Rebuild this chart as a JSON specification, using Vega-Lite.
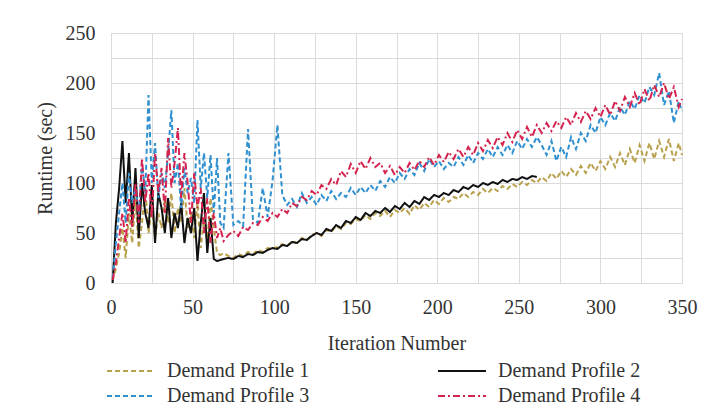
{
  "$schema": "https://vega.github.io/schema/vega-lite/v6.json",
  "width": 571,
  "height": 250,
  "padding": {"left": 35, "top": 23, "right": 10, "bottom": 2},
  "background": "white",
  "config": {
    "font": "Liberation Serif",
    "view": {"stroke": "#d0d0d0"},
    "axis": {
      "labelFont": "Liberation Serif",
      "titleFont": "Liberation Serif",
      "labelFontSize": 20,
      "titleFontSize": 20,
      "titleFontWeight": "normal",
      "labelColor": "#333333",
      "titleColor": "#333333",
      "gridColor": "#dadada",
      "domain": false,
      "ticks": false
    },
    "legend": {
      "labelFont": "Liberation Serif",
      "labelFontSize": 20,
      "labelColor": "#333333",
      "symbolType": "M-4,0H4",
      "symbolSize": 144,
      "symbolStrokeWidth": 2,
      "labelOffset": 26,
      "columnPadding": 124,
      "rowPadding": 5,
      "padding": 10,
      "offset": -2
    }
  },
  "datasets": {
    "runs": [
      {"i":1,"1":2,"2":0,"3":5,"4":3},
      {"i":3,"1":15,"2":60,"3":40,"4":20},
      {"i":5,"1":30,"2":95,"3":70,"4":45},
      {"i":7,"1":55,"2":142,"3":100,"4":70},
      {"i":9,"1":25,"2":80,"3":60,"4":40},
      {"i":11,"1":70,"2":130,"3":110,"4":85},
      {"i":13,"1":40,"2":60,"3":80,"4":55},
      {"i":15,"1":85,"2":115,"3":95,"4":100},
      {"i":17,"1":35,"2":45,"3":70,"4":60},
      {"i":19,"1":60,"2":100,"3":120,"4":125},
      {"i":21,"1":95,"2":70,"3":90,"4":80},
      {"i":23,"1":50,"2":55,"3":188,"4":110},
      {"i":25,"1":75,"2":98,"3":100,"4":65},
      {"i":27,"1":45,"2":40,"3":140,"4":130},
      {"i":29,"1":70,"2":90,"3":85,"4":90},
      {"i":31,"1":55,"2":75,"3":110,"4":115},
      {"i":33,"1":85,"2":50,"3":95,"4":70},
      {"i":35,"1":60,"2":85,"3":130,"4":145},
      {"i":37,"1":90,"2":45,"3":173,"4":95},
      {"i":39,"1":50,"2":70,"3":100,"4":120},
      {"i":41,"1":75,"2":55,"3":120,"4":155},
      {"i":43,"1":60,"2":80,"3":75,"4":85},
      {"i":45,"1":95,"2":40,"3":115,"4":130},
      {"i":47,"1":55,"2":65,"3":90,"4":100},
      {"i":49,"1":70,"2":50,"3":105,"4":60},
      {"i":51,"1":45,"2":75,"3":80,"4":110},
      {"i":53,"1":80,"2":22,"3":163,"4":75},
      {"i":55,"1":35,"2":60,"3":95,"4":95},
      {"i":57,"1":65,"2":90,"3":130,"4":50},
      {"i":59,"1":40,"2":30,"3":85,"4":85},
      {"i":61,"1":85,"2":65,"3":128,"4":40},
      {"i":63,"1":55,"2":24,"3":70,"4":70},
      {"i":65,"1":30,"2":22,"3":125,"4":45},
      {"i":67,"1":28,"2":23,"3":60,"4":55},
      {"i":69,"1":30,"2":24,"3":55,"4":42},
      {"i":72,"1":27,"2":25,"3":130,"4":48},
      {"i":75,"1":25,"2":24,"3":58,"4":52},
      {"i":78,"1":29,"2":27,"3":62,"4":47},
      {"i":81,"1":27,"2":26,"3":57,"4":56},
      {"i":84,"1":31,"2":29,"3":154,"4":53},
      {"i":87,"1":29,"2":28,"3":64,"4":60},
      {"i":90,"1":33,"2":31,"3":60,"4":58},
      {"i":93,"1":31,"2":30,"3":95,"4":66},
      {"i":96,"1":35,"2":33,"3":66,"4":62},
      {"i":99,"1":34,"2":35,"3":102,"4":70},
      {"i":102,"1":36,"2":34,"3":158,"4":66},
      {"i":105,"1":39,"2":38,"3":88,"4":74},
      {"i":108,"1":37,"2":37,"3":78,"4":70},
      {"i":111,"1":42,"2":41,"3":84,"4":80},
      {"i":114,"1":40,"2":40,"3":76,"4":77},
      {"i":117,"1":45,"2":44,"3":90,"4":86},
      {"i":120,"1":43,"2":43,"3":80,"4":83},
      {"i":123,"1":48,"2":47,"3":86,"4":92},
      {"i":126,"1":50,"2":50,"3":78,"4":88},
      {"i":129,"1":47,"2":48,"3":88,"4":98},
      {"i":132,"1":53,"2":54,"3":82,"4":94},
      {"i":135,"1":51,"2":52,"3":92,"4":104},
      {"i":138,"1":57,"2":58,"3":84,"4":98},
      {"i":141,"1":54,"2":55,"3":90,"4":112},
      {"i":144,"1":60,"2":62,"3":86,"4":106},
      {"i":147,"1":59,"2":60,"3":95,"4":119},
      {"i":150,"1":64,"2":66,"3":88,"4":110},
      {"i":153,"1":62,"2":63,"3":96,"4":122},
      {"i":156,"1":68,"2":70,"3":90,"4":114},
      {"i":159,"1":64,"2":67,"3":98,"4":125},
      {"i":162,"1":70,"2":72,"3":92,"4":116},
      {"i":165,"1":67,"2":70,"3":102,"4":120},
      {"i":168,"1":72,"2":75,"3":96,"4":110},
      {"i":171,"1":66,"2":71,"3":106,"4":117},
      {"i":174,"1":73,"2":77,"3":100,"4":108},
      {"i":177,"1":70,"2":74,"3":110,"4":116},
      {"i":180,"1":75,"2":80,"3":104,"4":110},
      {"i":183,"1":69,"2":76,"3":114,"4":120},
      {"i":186,"1":78,"2":82,"3":108,"4":113},
      {"i":189,"1":73,"2":79,"3":120,"4":122},
      {"i":192,"1":80,"2":86,"3":112,"4":116},
      {"i":195,"1":76,"2":83,"3":124,"4":126},
      {"i":198,"1":83,"2":88,"3":116,"4":118},
      {"i":201,"1":79,"2":86,"3":122,"4":128},
      {"i":204,"1":85,"2":90,"3":114,"4":121},
      {"i":207,"1":81,"2":88,"3":120,"4":131},
      {"i":210,"1":86,"2":93,"3":116,"4":124},
      {"i":213,"1":84,"2":91,"3":126,"4":134},
      {"i":216,"1":90,"2":96,"3":118,"4":126},
      {"i":219,"1":86,"2":94,"3":128,"4":136},
      {"i":222,"1":91,"2":98,"3":120,"4":128},
      {"i":225,"1":88,"2":96,"3":130,"4":140},
      {"i":228,"1":94,"2":100,"3":124,"4":132},
      {"i":231,"1":90,"2":98,"3":134,"4":143},
      {"i":234,"1":95,"2":101,"3":126,"4":135},
      {"i":237,"1":92,"2":99,"3":136,"4":146},
      {"i":240,"1":97,"2":103,"3":128,"4":138},
      {"i":243,"1":94,"2":101,"3":138,"4":150},
      {"i":246,"1":99,"2":104,"3":130,"4":141},
      {"i":249,"1":96,"2":103,"3":142,"4":153},
      {"i":252,"1":101,"2":106,"3":134,"4":144},
      {"i":255,"1":98,"2":104,"3":144,"4":156},
      {"i":258,"1":103,"2":107,"3":136,"4":146},
      {"i":261,"1":100,"2":106,"3":146,"4":158},
      {"i":264,"1":106,"2":null,"3":138,"4":150},
      {"i":267,"1":102,"2":null,"3":128,"4":160},
      {"i":270,"1":110,"2":null,"3":142,"4":152},
      {"i":273,"1":104,"2":null,"3":122,"4":162},
      {"i":276,"1":112,"2":null,"3":136,"4":155},
      {"i":279,"1":106,"2":null,"3":126,"4":166},
      {"i":282,"1":114,"2":null,"3":146,"4":158},
      {"i":285,"1":108,"2":null,"3":134,"4":170},
      {"i":288,"1":117,"2":null,"3":150,"4":161},
      {"i":291,"1":110,"2":null,"3":142,"4":172},
      {"i":294,"1":120,"2":null,"3":158,"4":164},
      {"i":297,"1":112,"2":null,"3":150,"4":175},
      {"i":300,"1":122,"2":null,"3":166,"4":166},
      {"i":303,"1":114,"2":null,"3":158,"4":178},
      {"i":306,"1":126,"2":null,"3":170,"4":168},
      {"i":309,"1":116,"2":null,"3":162,"4":182},
      {"i":312,"1":130,"2":null,"3":176,"4":172},
      {"i":315,"1":118,"2":null,"3":168,"4":186},
      {"i":318,"1":134,"2":null,"3":182,"4":176},
      {"i":321,"1":120,"2":null,"3":174,"4":190},
      {"i":324,"1":138,"2":null,"3":188,"4":178},
      {"i":327,"1":122,"2":null,"3":180,"4":194},
      {"i":330,"1":140,"2":null,"3":196,"4":182},
      {"i":333,"1":124,"2":null,"3":188,"4":198},
      {"i":336,"1":142,"2":null,"3":210,"4":186},
      {"i":339,"1":126,"2":null,"3":178,"4":200},
      {"i":342,"1":144,"2":null,"3":192,"4":184},
      {"i":345,"1":122,"2":null,"3":160,"4":196},
      {"i":348,"1":140,"2":null,"3":182,"4":176},
      {"i":350,"1":128,"2":null,"3":172,"4":184}
    ]
  },
  "data": {"name": "runs"},
  "transform": [
    {"fold": ["1", "2", "3", "4"], "as": ["s", "v"]},
    {"filter": "isValid(datum.v)"}
  ],
  "mark": {"type": "line", "strokeWidth": 2},
  "encoding": {
    "x": {
      "field": "i",
      "type": "quantitative",
      "scale": {"domain": [0, 350], "nice": false},
      "axis": {
        "values": [0,25,50,75,100,125,150,175,200,225,250,275,300,325,350],
        "labelExpr": "datum.value % 50 == 0 ? datum.label : ''",
        "title": "Iteration Number",
        "labelPadding": 14,
        "titlePadding": 16,
        "labelFlush": false
      }
    },
    "y": {
      "field": "v",
      "type": "quantitative",
      "scale": {"domain": [0, 250], "nice": false},
      "axis": {
        "values": [0,25,50,75,100,125,150,175,200,225,250],
        "labelExpr": "datum.value % 50 == 0 ? datum.label : ''",
        "title": "Runtime (sec)",
        "labelPadding": 16,
        "titlePadding": 10
      }
    },
    "color": {
      "field": "s",
      "type": "nominal",
      "scale": {"domain": ["1", "2", "3", "4"], "range": ["#B9A04C", "#111111", "#3190D0", "#D3234E"]},
      "legend": {"title": null, "orient": "bottom", "columns": 2, "labelExpr": "'Demand Profile ' + datum.label"}
    },
    "strokeDash": {
      "field": "s",
      "type": "nominal",
      "scale": {"domain": ["1", "2", "3", "4"], "range": [[5, 3], [1, 0], [5, 3], [7, 3, 2, 3]]},
      "legend": {"title": null, "orient": "bottom", "columns": 2, "labelExpr": "'Demand Profile ' + datum.label"}
    }
  }
}
